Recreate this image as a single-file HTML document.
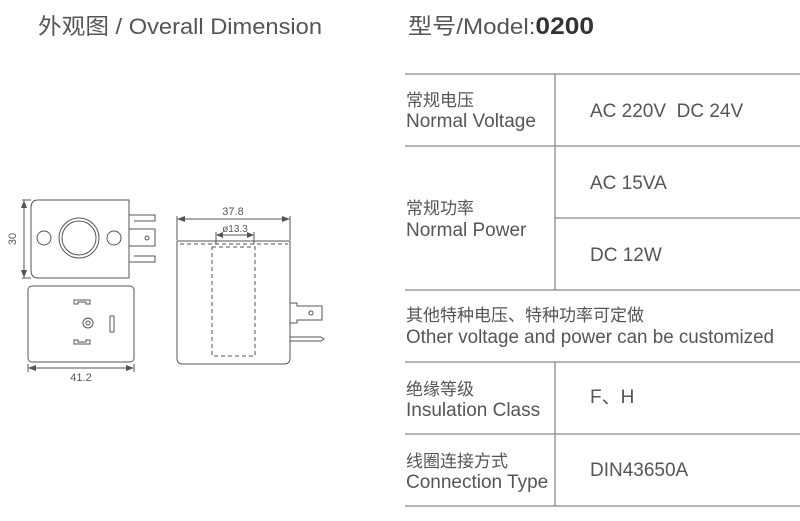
<!DOCTYPE html>
<html><head><meta charset="utf-8"><style>
html,body{margin:0;padding:0;background:#fff;}
svg{display:block;}
text{font-family:"Liberation Sans","Noto Sans CJK SC",sans-serif;fill:#555;}
</style></head><body>
<svg width="800" height="521" viewBox="0 0 800 521" xmlns="http://www.w3.org/2000/svg">
<text x="38" y="34" font-size="22" textLength="284" lengthAdjust="spacingAndGlyphs">外观图 / Overall Dimension</text>
<text x="408" y="34" font-size="22" textLength="186" lengthAdjust="spacingAndGlyphs">型号/Model:<tspan font-weight="bold" fill="#333" font-size="24">0200</tspan></text>

<g stroke="#888" stroke-width="1.3">
<line x1="405" y1="74" x2="800" y2="74"/>
<line x1="405" y1="146" x2="800" y2="146"/>
<line x1="555" y1="218" x2="800" y2="218"/>
<line x1="405" y1="290" x2="800" y2="290"/>
<line x1="405" y1="362" x2="800" y2="362"/>
<line x1="405" y1="434" x2="800" y2="434"/>
<line x1="405" y1="506" x2="800" y2="506"/>
<line x1="555" y1="74" x2="555" y2="290"/>
<line x1="555" y1="362" x2="555" y2="506"/>
</g>
<g font-size="17">
<text x="406" y="106">常规电压</text>
<text x="406" y="127" font-size="19">Normal Voltage</text>
<text x="590" y="117" font-size="19">AC 220V&#160;&#160;DC 24V</text>
<text x="406" y="214">常规功率</text>
<text x="406" y="236" font-size="19">Normal Power</text>
<text x="590" y="189" font-size="19">AC 15VA</text>
<text x="590" y="261" font-size="19">DC 12W</text>
<text x="406" y="321">其他特种电压、特种功率可定做</text>
<text x="406" y="343" font-size="19" textLength="368" lengthAdjust="spacingAndGlyphs">Other voltage and power can be customized</text>
<text x="406" y="395">绝缘等级</text>
<text x="406" y="416" font-size="19">Insulation Class</text>
<text x="590" y="403" font-size="19">F、H</text>
<text x="406" y="467">线圈连接方式</text>
<text x="406" y="488" font-size="19">Connection Type</text>
<text x="590" y="476" font-size="19">DIN43650A</text>
</g>

<g stroke="#555" stroke-width="1" fill="none">
<path d="M38 200 H129 V278 H38 Q31 278 31 270 V208 Q31 200 38 200 Z"/>
<circle cx="79" cy="238" r="20"/><circle cx="79" cy="238" r="17"/>
<circle cx="44" cy="238" r="7"/><circle cx="114" cy="238" r="7"/>
<path d="M129 215 H155 V221 H134"/>
<rect x="129" y="229" width="26" height="17"/><circle cx="147" cy="238" r="2"/>
<path d="M129 262 H155 V256 H134"/>
<line x1="22" y1="200" x2="31" y2="200"/><line x1="22" y1="278" x2="31" y2="278"/>
<line x1="24" y1="202" x2="24" y2="276"/>
<rect x="28" y="286" width="106" height="76" rx="4"/>
<path d="M74 300 H90 V304 H86 V302 H78 V304 H74 Z"/>
<path d="M74 344 H90 V340 H86 V342 H78 V340 H74 Z"/>
<circle cx="88" cy="323" r="5"/><circle cx="88" cy="323" r="2"/>
<rect x="110" y="316" width="4" height="16"/>
<line x1="28" y1="364" x2="28" y2="372"/><line x1="134" y1="364" x2="134" y2="372"/>
<line x1="30" y1="368" x2="132" y2="368"/>
<path d="M177 241 H290 V358 Q290 364 284 364 H183 Q177 364 177 358 Z"/>
<g stroke-dasharray="4 3">
<line x1="180" y1="244" x2="288" y2="244"/>
<rect x="212" y="247" width="43" height="109"/>
<line x1="216" y1="240" x2="216" y2="247"/><line x1="254" y1="240" x2="254" y2="247"/>
</g>
<line x1="177" y1="216" x2="177" y2="240"/><line x1="290" y1="216" x2="290" y2="240"/>
<line x1="179" y1="219" x2="288" y2="219"/>
<line x1="216" y1="232" x2="216" y2="240"/><line x1="254" y1="232" x2="254" y2="240"/>
<line x1="217" y1="235" x2="253" y2="235"/>
<path d="M290 303 H297 V306 H322 V320 H297 V323 H290"/><circle cx="311" cy="313" r="2"/>
<path d="M290 337 H321 L324 339 L321 341 H290"/>
</g>
<g fill="#555">
<path d="M24 200 L21 208 H27 Z"/><path d="M24 278 L21 270 H27 Z"/>
<path d="M28 368 L36 365 V371 Z"/><path d="M134 368 L126 365 V371 Z"/>
<path d="M177 219 L185 216 V222 Z"/><path d="M290 219 L282 216 V222 Z"/>
<path d="M216 235 L223 232 V238 Z"/><path d="M254 235 L247 232 V238 Z"/>
</g>
<text x="81" y="381" font-size="11" text-anchor="middle">41.2</text>
<text x="233" y="215" font-size="11" text-anchor="middle">37.8</text>
<text x="235" y="232" font-size="10" text-anchor="middle">ø13.3</text>
<text x="16" y="239" font-size="11" text-anchor="middle" transform="rotate(-90 16 239)">30</text>
</svg>
</body></html>
